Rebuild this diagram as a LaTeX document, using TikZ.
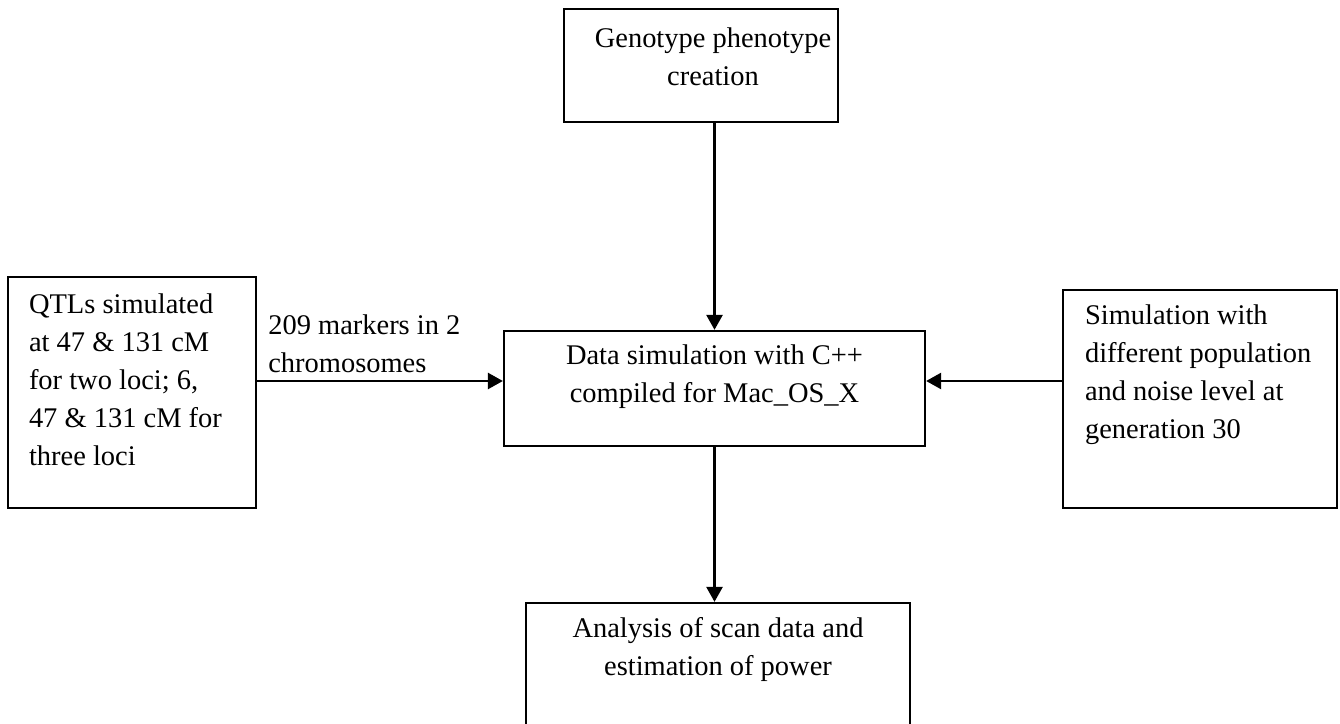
\documentclass[tikz,border=0pt]{standalone}
\usepackage{fontspec}
\setmainfont{Liberation Serif}
\usetikzlibrary{arrows.meta}

\begin{document}
\begin{tikzpicture}[line width=1.3pt,
  box/.style={draw, rectangle, inner sep=0pt},
  txt/.style={inner sep=0pt, font=\fontsize{16.2}{21.6}\selectfont},
  arr/.style={line width=1.5pt, -{Triangle[length=0.3cm, width=0.32cm]}}]
  \useasboundingbox (0,0) rectangle (26.8,14.46);
  \clip (0,0) rectangle (26.8,14.46);
  % boxes
  \node[box, minimum width=5.48cm, minimum height=2.26cm] (gen) at (14.02,13.15) {};
  \node[box, minimum width=4.96cm, minimum height=4.62cm] (qtl) at (2.64,6.61) {};
  \node[box, minimum width=8.42cm, minimum height=2.30cm] (sim) at (14.29,6.69) {};
  \node[box, minimum width=5.48cm, minimum height=4.36cm] (pop) at (24.00,6.48) {};
  \node[box, minimum width=7.68cm, minimum height=3.40cm] (ana) at (14.36,0.70) {};
  % texts
  \node[txt, anchor=north, align=center] (gentxt) at ([xshift=0.24cm, yshift=-0.37cm]gen.north)
    {Genotype phenotype\\creation};
  \node[txt, anchor=north west, align=left] (qtltxt) at ([xshift=0.42cm, yshift=-0.33cm]qtl.north west)
    {QTLs simulated\\at 47 \& 131 cM\\for two loci; 6,\\47 \& 131 cM for\\three loci};
  \node[txt, anchor=north, align=center] (simtxt) at ([yshift=-0.27cm]sim.north)
    {Data simulation with C++\\compiled for Mac\_OS\_X};
  \node[txt, anchor=north west, align=left] (poptxt) at ([xshift=0.44cm, yshift=-0.29cm]pop.north west)
    {Simulation with\\different population\\and noise level at\\generation 30};
  \node[txt, anchor=north, align=center] (anatxt) at ([yshift=-0.29cm]ana.north)
    {Analysis of scan data and\\estimation of power};
  % arrows
  \coordinate (simin) at ([yshift=0.15cm]sim.west);
  \coordinate (simout) at ([yshift=0.15cm]sim.east);
  \draw[arr] (gen.south -| sim.north) -- (sim.north);
  \draw[arr] (sim.south) -- (sim.south |- ana.north);
  \draw[arr] (qtl.east |- simin) coordinate (mrkstart) -- (simin);
  \draw[arr] (pop.west |- simout) -- (simout);
  \node[txt, anchor=south west, align=left] (mrk) at ([xshift=0.2cm, yshift=0.14cm]mrkstart)
    {209 markers in 2\\chromosomes};
\end{tikzpicture}
\end{document}
